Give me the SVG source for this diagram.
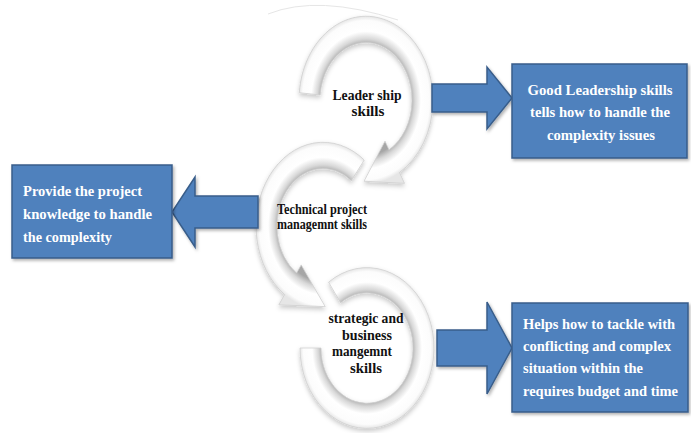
<svg xmlns="http://www.w3.org/2000/svg" width="691" height="433" viewBox="0 0 691 433">
<defs>
<radialGradient id="ringG" gradientUnits="userSpaceOnUse" cx="0" cy="0" r="67">
<stop offset="0" stop-color="#a4a4a4"/>
<stop offset="0.66" stop-color="#a6a6a6"/>
<stop offset="0.73" stop-color="#d8d8d8"/>
<stop offset="0.82" stop-color="#ffffff"/>
<stop offset="0.95" stop-color="#fcfcfc"/>
<stop offset="1" stop-color="#e6e6e6"/>
</radialGradient>
<filter id="ringShadow" x="-30%" y="-30%" width="160%" height="160%">
<feDropShadow dx="0" dy="2" stdDeviation="2" flood-color="#000" flood-opacity="0.22"/>
</filter>
<filter id="boxShadow" x="-10%" y="-10%" width="125%" height="130%">
<feDropShadow dx="1.5" dy="2" stdDeviation="1.5" flood-color="#000" flood-opacity="0.3"/>
</filter>
</defs>
<style>
.ring{fill:url(#ringG);stroke:#cfcfcf;stroke-width:0.7;filter:url(#ringShadow)}
.blue{fill:#4F81BD;stroke:#385D8A;stroke-width:1.5;filter:url(#boxShadow)}
.wt{font-family:"Liberation Serif","Times New Roman",serif;font-weight:bold;font-size:15px;fill:#ffffff}
.bt{font-family:"Liberation Serif","Times New Roman",serif;font-weight:bold;fill:#111111}
</style>
<rect width="691" height="433" fill="#ffffff"/>
<path d="M 268 14 Q 318 -6 398 20" fill="none" stroke="#e6e6e6" stroke-width="1"/>

<g id="ring3" transform="translate(367,348) scale(1,1.2)">
<path class="ring" d="M -38.43 -54.88 A 67 67 0 1 1 -67 0 L -46 0 A 46 46 0 1 0 -26.38 -37.68 Z"/>
</g>
<g id="ring2" transform="translate(323,226) scale(1,1.25)">
<path class="ring" d="M 41.25 -52.80 A 67 67 0 1 0 -38.43 54.88 L -44.17 63.08 L 2.23 64.5 L -21.80 31.13 L -26.38 37.68 A 46 46 0 1 1 28.32 -36.25 Z"/>
</g>
<g id="ring1" transform="translate(366,100) scale(1,1.25)">
<path class="ring" d="M -66.74 -5.84 A 67 67 0 1 1 33.5 58.02 L 38.5 66.68 L -2 65 L 19 32.91 L 23 39.84 A 46 46 0 1 0 -45.83 -4.01 Z"/>
</g>

<g id="node-leadership">
<text class="bt" font-size="15" text-anchor="middle"><tspan x="367" y="100" textLength="69" lengthAdjust="spacingAndGlyphs">Leader ship</tspan><tspan x="368" y="116" textLength="33" lengthAdjust="spacingAndGlyphs">skills</tspan></text>
</g>
<g id="node-technical">
<text class="bt" font-size="14"><tspan x="277" y="214" textLength="90" lengthAdjust="spacingAndGlyphs">Technical project</tspan><tspan x="277" y="229" textLength="90" lengthAdjust="spacingAndGlyphs">managemnt skills</tspan></text>
</g>
<g id="node-strategic">
<text class="bt" font-size="15" text-anchor="middle"><tspan x="366" y="323" textLength="75" lengthAdjust="spacingAndGlyphs">strategic and</tspan><tspan x="367" y="340" textLength="50" lengthAdjust="spacingAndGlyphs">business</tspan><tspan x="362" y="356" textLength="60" lengthAdjust="spacingAndGlyphs">mangemnt</tspan><tspan x="366" y="373" textLength="32" lengthAdjust="spacingAndGlyphs">skills</tspan></text>
</g>

<g id="connectors">
<polygon class="blue" points="432,84 487,84 487,67 512,98 487,129 487,112 432,112"/>
<polygon class="blue" points="258,196 195,196 195,177 172,212 195,247 195,228 258,228"/>
<polygon class="blue" points="437,330 487,330 487,302 512,348 487,394 487,366 437,366"/>
</g>

<g id="box-leadership">
<rect class="blue" x="512" y="64" width="175" height="94"/>
<text class="wt" text-anchor="middle"><tspan x="600" y="95" textLength="145" lengthAdjust="spacingAndGlyphs">Good Leadership skills</tspan><tspan x="600" y="117" textLength="140" lengthAdjust="spacingAndGlyphs">tells how to handle the</tspan><tspan x="601" y="140" textLength="108" lengthAdjust="spacingAndGlyphs">complexity issues</tspan></text>
</g>
<g id="box-technical">
<rect class="blue" x="12" y="165" width="160" height="93"/>
<text class="wt"><tspan x="23" y="196" textLength="119" lengthAdjust="spacingAndGlyphs">Provide the project</tspan><tspan x="23" y="219" textLength="129" lengthAdjust="spacingAndGlyphs">knowledge to handle</tspan><tspan x="23" y="242" textLength="89" lengthAdjust="spacingAndGlyphs">the complexity</tspan></text>
</g>
<g id="box-strategic">
<rect class="blue" x="512" y="303" width="176" height="109"/>
<text class="wt"><tspan x="523" y="329" textLength="152" lengthAdjust="spacingAndGlyphs">Helps how to tackle with</tspan><tspan x="523" y="351" textLength="148" lengthAdjust="spacingAndGlyphs">conflicting and complex</tspan><tspan x="523" y="373" textLength="120" lengthAdjust="spacingAndGlyphs">situation within the</tspan><tspan x="523" y="396" textLength="155" lengthAdjust="spacingAndGlyphs">requires budget and time</tspan></text>
</g>
</svg>
